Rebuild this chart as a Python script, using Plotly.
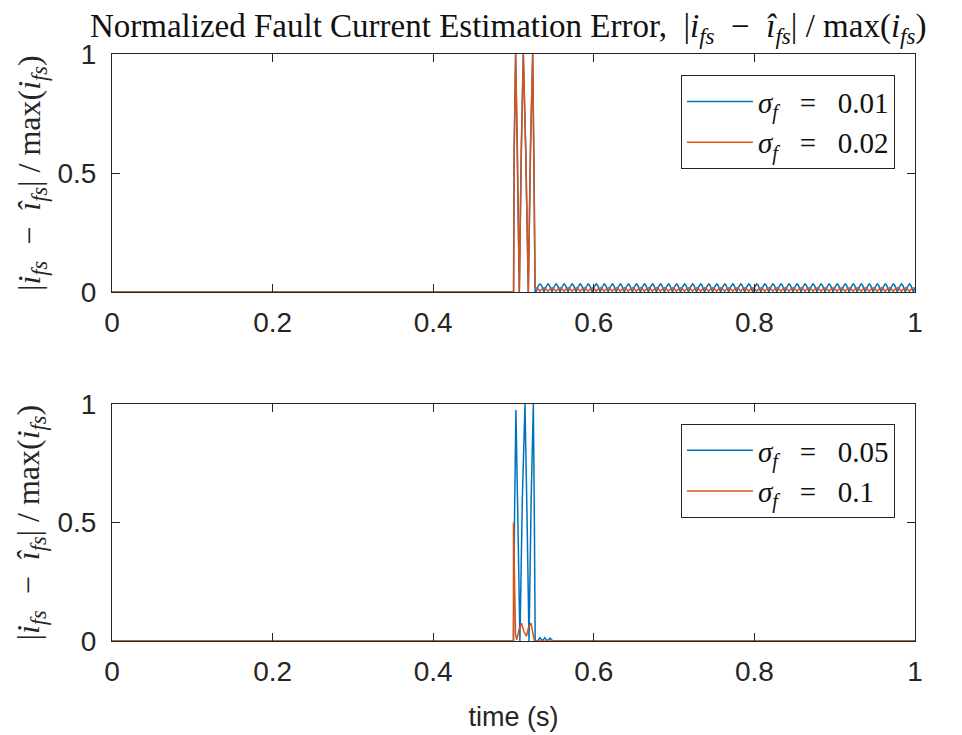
import plotly.graph_objects as go

# ---------------- data ----------------
BLUE = "#0072BD"
ORANGE = "#D95319"

# top panel: transient burst points (time, value)
top_blue_burst_t = [0.0, 0.5000, 0.5008, 0.5026, 0.5046, 0.5072, 0.5097, 0.5122, 0.5152, 0.5184, 0.5211, 0.5239, 0.5255, 0.5269]
top_blue_burst_y = [0.0, 0.0, 0.60, 1.00, 0.60, 0.00, 0.60, 1.00, 0.60, 0.00, 0.60, 1.00, 0.50, 0.00]
top_orange_burst_t = [0.0, 0.5002, 0.5009, 0.5027, 0.5048, 0.5073, 0.5098, 0.5122, 0.5152, 0.5185, 0.5212, 0.5239, 0.5256, 0.5268]
top_orange_burst_y = [0.0, 0.0, 0.60, 1.00, 0.60, 0.00, 0.60, 1.00, 0.60, 0.00, 0.60, 1.00, 0.50, 0.02]

# steady-state ripple after the fault (one measured cycle, repeated)
ripple_period = 0.01
ripple_phase = [0.0, 1/6, 2/6, 3/6, 4/6, 5/6]
ripple_cycle_blue = [0.0, 0.017, 0.029, 0.034, 0.029, 0.017]
ripple_cycle_orange = [0.003, 0.0105, 0.016, 0.018, 0.016, 0.0105]
ripple_start_blue = 0.528
ripple_start_orange = 0.523
ripple_begin = 0.527
t_end = 1.0

# bottom panel
bot_blue_t = [0.0, 0.5000, 0.5012, 0.5030, 0.5055, 0.5080, 0.5110, 0.5143, 0.5170, 0.5193, 0.5220, 0.5247, 0.5260, 0.5270,
              0.5300, 0.5330, 0.5360, 0.5390, 0.5420, 0.5455, 0.5490, 1.0]
bot_blue_y = [0.0, 0.0, 0.50, 0.975, 0.50, 0.0, 0.60, 1.00, 0.50, 0.0, 0.60, 1.00, 0.50, 0.0,
              0.0, 0.014, 0.0, 0.014, 0.0, 0.012, 0.0, 0.0]
bot_orange_t = [0.0, 0.4999, 0.5000, 0.5010, 0.5025, 0.5040, 0.5070, 0.5100, 0.5130, 0.5160, 0.5190, 0.5218, 0.5240, 0.5260, 1.0]
bot_orange_y = [0.0, 0.0, 0.50, 0.22, 0.03, 0.005, 0.05, 0.075, 0.04, 0.02, 0.06, 0.075, 0.04, 0.0, 0.0]

legend_top = ["<i>σ<sub>f</sub></i>   =   0.01", "<i>σ<sub>f</sub></i>   =   0.02"]
legend_bot = ["<i>σ<sub>f</sub></i>   =   0.05", "<i>σ<sub>f</sub></i>   =   0.1"]
x_ticks = [0, 0.2, 0.4, 0.6, 0.8, 1]
x_ticklabels = ["0", "0.2", "0.4", "0.6", "0.8", "1"]
y_ticks = [0, 0.5, 1]
y_ticklabels = ["0", "0.5", "1"]


def ripple(start, cycle):
    ts, ys = [], []
    k = 0
    while True:
        base = start + k * ripple_period
        if base > t_end:
            break
        for f, v in zip(ripple_phase, cycle):
            t = base + f * ripple_period
            if ripple_begin <= t <= t_end:
                ts.append(t)
                ys.append(v)
        k += 1
    return ts, ys


rb_t, rb_y = ripple(ripple_start_blue, ripple_cycle_blue)
ro_t, ro_y = ripple(ripple_start_orange, ripple_cycle_orange)

top_blue_t = top_blue_burst_t + rb_t
top_blue_y = top_blue_burst_y + rb_y
top_orange_t = top_orange_burst_t + ro_t
top_orange_y = top_orange_burst_y + ro_y

# ---------------- figure ----------------
fig = go.Figure()
LW = 1.5
fig.add_trace(go.Scatter(x=top_blue_t, y=top_blue_y, mode="lines", line=dict(color=BLUE, width=LW),
                         name=legend_top[0], xaxis="x", yaxis="y", legend="legend"))
fig.add_trace(go.Scatter(x=top_orange_t, y=top_orange_y, mode="lines", line=dict(color=ORANGE, width=LW),
                         name=legend_top[1], xaxis="x", yaxis="y", legend="legend"))
fig.add_trace(go.Scatter(x=bot_blue_t, y=bot_blue_y, mode="lines", line=dict(color=BLUE, width=LW),
                         name=legend_bot[0], xaxis="x2", yaxis="y2", legend="legend2"))
fig.add_trace(go.Scatter(x=bot_orange_t, y=bot_orange_y, mode="lines", line=dict(color=ORANGE, width=LW),
                         name=legend_bot[1], xaxis="x2", yaxis="y2", legend="legend2"))

AX = "#262626"
sans = "Liberation Sans, Arial, sans-serif"
serif = "Liberation Serif, DejaVu Serif, serif"
tickfont = dict(family=sans, size=28, color=AX)
ylab = "|<i>i<sub>fs</sub></i>  −  <i>î<sub>fs</sub></i>| / max(<i>i<sub>fs</sub></i>)"
title_text = "Normalized Fault Current Estimation Error,  |<i>i<sub>fs</sub></i>  −  <i>î<sub>fs</sub></i>| / max(<i>i<sub>fs</sub></i>)"

xcommon = dict(range=[0, 1], tickvals=x_ticks, ticktext=x_ticklabels, ticks="inside", ticklen=8,
               tickcolor=AX, showline=True, linecolor=AX, linewidth=1, mirror="ticks",
               showgrid=False, zeroline=False, tickfont=tickfont, automargin=False,
               ticklabelstandoff=5)
ycommon = dict(range=[0, 1], tickvals=y_ticks, ticktext=y_ticklabels, ticks="inside", ticklen=8,
               tickcolor=AX, showline=True, linecolor=AX, linewidth=1, mirror="ticks",
               showgrid=False, zeroline=False, tickfont=tickfont, automargin=False,
               ticklabelstandoff=9)

legcommon = dict(bgcolor="white", bordercolor="#262626", borderwidth=1,
                 font=dict(family=serif, size=29, color="#111"),
                 xanchor="right", yanchor="top", tracegroupgap=0, itemwidth=66)

TOP_DOM = [0.5945, 1]
BOT_DOM = [0, 0.4037]

fig.update_layout(
    width=962, height=735,
    margin=dict(l=104, r=55, t=46, b=102, autoexpand=False),
    paper_bgcolor="white", plot_bgcolor="white",
    xaxis=dict(domain=[0, 1], anchor="y", **xcommon),
    yaxis=dict(domain=TOP_DOM, anchor="x", **ycommon),
    xaxis2=dict(domain=[0, 1], anchor="y2",
                title=dict(text="time (s)", font=dict(family=sans, size=27, color=AX), standoff=21),
                **xcommon),
    yaxis2=dict(domain=BOT_DOM, anchor="x2", **ycommon),
    legend=dict(x=0.975, y=0.964, **legcommon),
    legend2=dict(x=0.975, y=0.3697, **legcommon),
    title=dict(text=title_text,
               font=dict(family=serif, size=33, color="#111"),
               x=0.52, xanchor="center", xref="container", y=0.976, yanchor="middle", yref="container",
               automargin=False),
    showlegend=True,
)

# y-axis labels as rotated text, placed left of the tick labels
for dom in (TOP_DOM, BOT_DOM):
    fig.add_annotation(text=ylab, textangle=-90, xref="paper", yref="paper",
                       x=0, y=(dom[0] + dom[1]) / 2, xanchor="center", yanchor="middle",
                       xshift=-81, showarrow=False,
                       font=dict(family=serif, size=32, color=AX))

fig.write_html("out.html")
